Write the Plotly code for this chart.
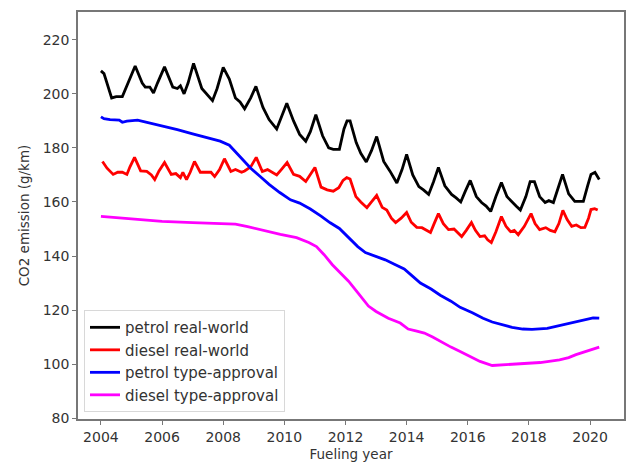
import plotly.graph_objects as go

# Monthly-resolution turning points of each series (fueling year, g CO2/km)
petrol_rw_year = [
    2004.0, 2004.1, 2004.35, 2004.5, 2004.7, 2004.85, 2005.12, 2005.35, 2005.45, 2005.6,
    2005.72, 2005.85, 2006.08, 2006.35, 2006.5, 2006.6, 2006.72, 2006.85, 2007.03, 2007.3,
    2007.5, 2007.65, 2007.8, 2008.0, 2008.2, 2008.4, 2008.55, 2008.7, 2008.9, 2009.07,
    2009.3, 2009.5, 2009.75, 2009.9, 2010.08, 2010.3, 2010.5, 2010.7, 2010.85, 2011.03,
    2011.25, 2011.45, 2011.6, 2011.8, 2011.95, 2012.05, 2012.15, 2012.35, 2012.5, 2012.68,
    2012.85, 2013.02, 2013.25, 2013.45, 2013.68, 2013.85, 2014.0, 2014.2, 2014.4, 2014.55,
    2014.72, 2014.88, 2015.04, 2015.25, 2015.47, 2015.62, 2015.77, 2015.92, 2016.08, 2016.28,
    2016.45, 2016.6, 2016.75, 2016.92, 2017.1, 2017.28, 2017.45, 2017.58, 2017.72, 2017.9,
    2018.04, 2018.18, 2018.35, 2018.53, 2018.65, 2018.8, 2018.95, 2019.1, 2019.3, 2019.5,
    2019.65, 2019.78, 2019.92, 2020.03, 2020.16, 2020.25, 2020.3,
]
petrol_rw = [
    208.5, 207.5, 198.5, 199, 199, 203, 210.3, 204, 202.5, 202.5,
    200.3, 204, 210, 202.5, 202, 203, 200, 204, 211.3, 202,
    199.5, 197.5, 202, 209.8, 205.5, 198.5, 197, 194.5, 198.5, 202.8,
    195, 190.5, 187, 191, 196.5, 190, 185, 182.5, 186, 192.3,
    184.5, 180, 179.5, 179.5, 187, 190, 190, 182, 178, 174.8,
    179, 184.2, 175, 171.5, 167, 172, 177.6, 170, 165.7, 164.5,
    162.8, 167.5, 172.8, 166, 162.8, 161.5, 160, 164, 168, 162,
    159.8, 158.5, 156.5, 162, 167.2, 162, 159.8, 158.5, 157, 162,
    167.5, 167.5, 162, 159.8, 160.5, 159.8, 165, 170.2, 163, 160.2,
    160.2, 160.2, 166, 170.2, 171, 169.5, 168.3,
]

diesel_rw_year = [
    2004.05, 2004.2, 2004.4, 2004.55, 2004.7, 2004.85, 2004.95, 2005.1, 2005.3, 2005.5,
    2005.65, 2005.76, 2005.9, 2006.08, 2006.3, 2006.45, 2006.6, 2006.68, 2006.8, 2006.92,
    2007.06, 2007.25, 2007.45, 2007.6, 2007.72, 2007.88, 2008.04, 2008.25, 2008.4, 2008.6,
    2008.7, 2008.9, 2009.08, 2009.28, 2009.45, 2009.6, 2009.75, 2009.9, 2010.09, 2010.3,
    2010.5, 2010.7, 2010.85, 2011.0, 2011.2, 2011.4, 2011.6, 2011.78, 2011.92, 2012.04,
    2012.15, 2012.34, 2012.5, 2012.7, 2012.85, 2013.02, 2013.2, 2013.35, 2013.5, 2013.64,
    2013.82, 2014.0, 2014.15, 2014.33, 2014.5, 2014.65, 2014.78, 2014.9, 2015.04, 2015.2,
    2015.37, 2015.55, 2015.68, 2015.8, 2015.95, 2016.12, 2016.25, 2016.4, 2016.55, 2016.65,
    2016.77, 2016.92, 2017.1, 2017.25, 2017.4, 2017.52, 2017.65, 2017.85, 2018.07, 2018.2,
    2018.35, 2018.55, 2018.7, 2018.85, 2018.98, 2019.11, 2019.25, 2019.4, 2019.55, 2019.7,
    2019.83, 2019.95, 2020.03, 2020.15, 2020.25,
]
diesel_rw = [
    175, 172.5, 170.2, 171, 171, 170.2, 173, 176.5, 171.5, 171.3,
    170, 168.3, 171.5, 174.6, 170.2, 170.5, 169, 171, 168.3, 171,
    175, 171, 171, 171, 169.4, 172, 176, 171.3, 172, 171,
    171.5, 173, 176.5, 171.3, 172, 171, 170, 172, 174.6, 170.2,
    169.5, 167.6, 170, 172.8, 165.5, 164.5, 164, 165.3, 168, 169,
    168.5, 162, 160, 157.9, 160, 162.4, 158, 157, 154, 152.4,
    154, 156.1, 152.5, 150.6, 150.5, 149.5, 148.7, 152, 155.7, 152,
    149.8, 150, 148.5, 147.2, 149.5, 152.4, 149.5, 147.2, 147.5, 146,
    145, 149, 154.6, 151, 149, 149.5, 147.9, 151, 155.7, 152,
    149.8, 150.5, 149.5, 149, 152, 156.9, 153.5, 151, 151.5, 150.5,
    150.6, 154, 157.2, 157.5, 157,
]

petrol_ta_year = [
    2004.0, 2004.1, 2004.3, 2004.6, 2004.7, 2004.85, 2005.2, 2005.5, 2005.9, 2006.5,
    2007.0, 2007.5, 2007.9, 2008.2, 2008.4, 2008.6, 2008.9, 2009.2, 2009.5, 2009.85,
    2010.2, 2010.5, 2010.85, 2011.2, 2011.5, 2011.8, 2012.1, 2012.4, 2012.65, 2013.0,
    2013.3, 2013.6, 2013.92, 2014.2, 2014.45, 2014.8, 2015.1, 2015.45, 2015.75, 2016.15,
    2016.5, 2016.8, 2017.1, 2017.45, 2017.8, 2018.1, 2018.6, 2018.9, 2019.3, 2019.6,
    2019.85, 2020.1, 2020.3,
]
petrol_ta = [
    191.5, 190.8, 190.5, 190.3, 189.5, 189.9, 190.3, 189.5, 188.3, 186.8,
    185.2, 183.8, 182.5, 181, 178.6, 175.8, 172.5, 169.5, 166.5, 163.5,
    160.8, 159.6, 157.4, 154.8, 152.3, 150.2, 147, 143.5, 141.3, 139.8,
    138.6, 137, 135.2, 132.5, 130, 127.8, 125.5, 123.3, 121, 119,
    117, 115.6, 114.6, 113.6, 113, 112.9, 113.2, 114, 115, 116,
    116.7, 117.1, 117,
]

diesel_ta_year = [
    2004.0, 2004.5, 2005.0, 2006.0, 2007.0, 2007.9, 2008.4, 2008.8, 2009.3, 2009.87,
    2010.4, 2010.8, 2011.05, 2011.3, 2011.57, 2011.85, 2012.1, 2012.4, 2012.75, 2013.0,
    2013.4, 2013.79, 2014.05, 2014.3, 2014.58, 2014.85, 2015.1, 2015.45, 2015.75, 2016.1,
    2016.4, 2016.8, 2017.2, 2017.7, 2018.37, 2019.0, 2019.3, 2019.54, 2019.9, 2020.2,
    2020.3,
]
diesel_ta = [
    154.7, 154.2, 153.6, 152.8, 152.4, 152.1, 151.8, 150.9, 149.5, 148,
    146.8, 145, 143.5, 140.5, 136.8, 133.5, 130.7, 126.5, 121.5, 119.5,
    117, 115.2, 113, 112.3, 111.5, 110, 108.4, 106.3, 104.7, 102.6,
    101, 99.5, 99.8, 100.1, 100.6, 101.6, 102.4, 103.5, 104.8, 105.9,
    106.3,
]

x_ticks = [2004, 2006, 2008, 2010, 2012, 2014, 2016, 2018, 2020]
y_ticks = [80, 100, 120, 140, 160, 180, 200, 220]

series = [
    ("petrol real-world", petrol_rw_year, petrol_rw, "#000000"),
    ("diesel real-world", diesel_rw_year, diesel_rw, "#ff0000"),
    ("petrol type-approval", petrol_ta_year, petrol_ta, "#0000ff"),
    ("diesel type-approval", diesel_ta_year, diesel_ta, "#ff00ff"),
]

fig = go.Figure()
for name, xs, ys, color in series:
    fig.add_trace(go.Scatter(
        x=xs, y=ys, mode="lines", name=name,
        line=dict(color=color, width=2.8),
    ))

font_family = "DejaVu Sans"
axis_common = dict(
    showgrid=False, zeroline=False,
    showline=True, linecolor="#777777", linewidth=1.6, mirror=True,
    ticks="outside", ticklen=4, tickwidth=1.2, tickcolor="#777777",
    tickfont=dict(family=font_family, size=14, color="#333333"),
)

fig.update_layout(
    width=630, height=468,
    margin=dict(l=78, r=4, t=12, b=49),
    paper_bgcolor="white", plot_bgcolor="white",
    font=dict(family=font_family, size=14, color="#333333"),
    xaxis=dict(
        range=[2003.25, 2021.11], tickvals=x_ticks,
        title=dict(text="Fueling year", font=dict(size=13.5), standoff=6),
        **axis_common,
    ),
    yaxis=dict(
        range=[79.7, 230.3], tickvals=y_ticks,
        title=dict(text="CO2 emission (g/km)", font=dict(size=13.5), standoff=10),
        **axis_common,
    ),
    legend=dict(
        x=0.011, y=0.017, xanchor="left", yanchor="bottom",
        bgcolor="rgba(255,255,255,0.85)", bordercolor="#d8d8d8", borderwidth=1,
        font=dict(family=font_family, size=15, color="#333333"),
        tracegroupgap=0,
    ),
    showlegend=True,
)

fig.write_html("out.html")
